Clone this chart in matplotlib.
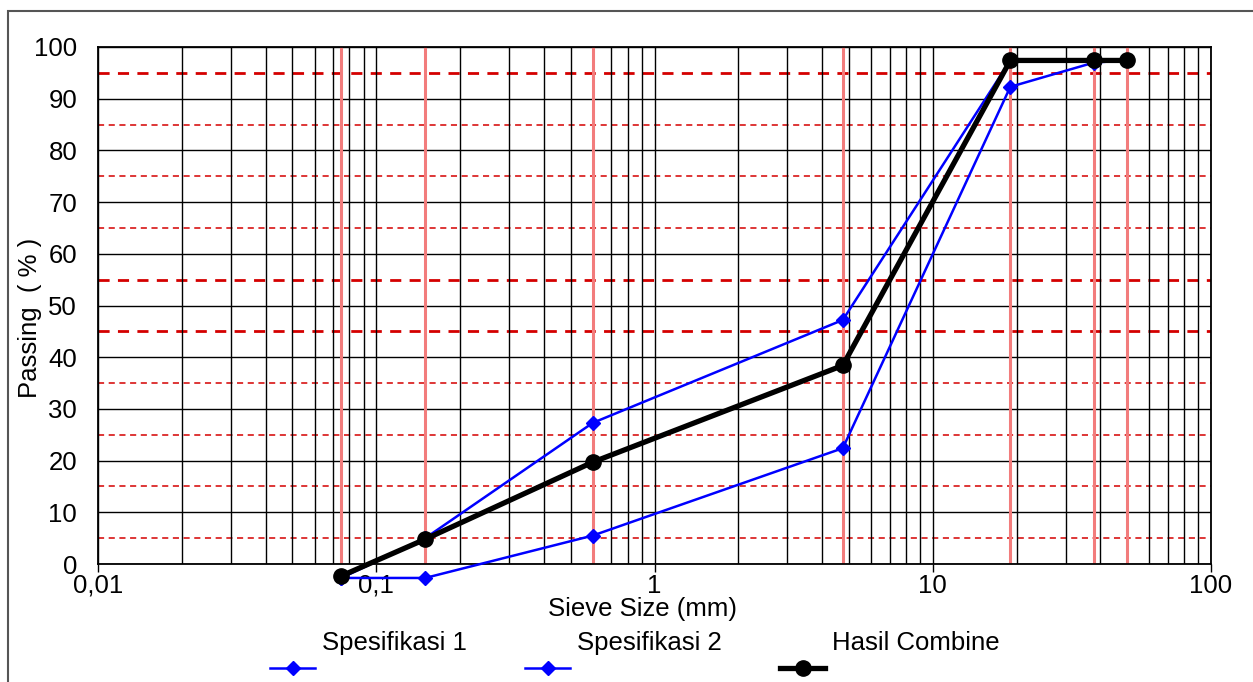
import matplotlib.pyplot as plt
import matplotlib.ticker as mticker
from matplotlib.lines import Line2D
from matplotlib.patches import Rectangle
import numpy as np

plt.rcParams['font.family'] = ['Liberation Sans', 'DejaVu Sans']

# sieve sizes (mm)
sieve = [0.075, 0.15, 0.6, 4.75, 19, 38, 50]
# passing (%)
spek1 = [-2.7, -2.7, 5.5, 22.4, 92.3, 97.0, 97.4]
spek2 = [-2.7, 5.0, 27.3, 47.2, 97.4, 97.4, 97.4]
combine = [-2.3, 4.8, 19.7, 38.4, 97.4, 97.4, 97.4]

labels = ['Spesifikasi 1', 'Spesifikasi 2', 'Hasil Combine']
xtick_vals = [0.01, 0.1, 1, 10, 100]
xtick_labels = ['0,01', '0,1', '1', '10', '100']
ytick_vals = list(range(0, 101, 10))

W, H = 1253, 682
fig = plt.figure(figsize=(W / 100, H / 100), dpi=100)
ax = fig.add_axes([98 / W, 1 - 564 / H, (1211 - 98) / W, (564 - 47) / H])

# outer frame
fig.add_artist(Rectangle((8 / W, -0.1), 1.2, 1 - 11 / H + 0.1, transform=fig.transFigure,
                         fill=False, edgecolor='#555555', lw=1.5))

ax.set_xscale('log')
ax.set_xlim(0.01, 100)
ax.set_ylim(0, 100)

# grid: black solid at decades / minors and every 10 %
ax.xaxis.set_major_locator(mticker.FixedLocator(xtick_vals))
ax.xaxis.set_major_formatter(mticker.FixedFormatter(xtick_labels))
ax.xaxis.set_minor_locator(mticker.LogLocator(base=10, subs=np.arange(2, 10)))
ax.xaxis.set_minor_formatter(mticker.NullFormatter())
ax.grid(True, which='both', axis='x', color='black', lw=1)
ax.set_yticks(ytick_vals)
ax.grid(True, which='major', axis='y', color='black', lw=1)

# red dashed at 5, 15, ... 95
for v in range(5, 100, 10):
    ax.axhline(v, color='#d40000', ls=(0, (4, 3)), lw=2 if v in (45, 55, 95) else 1.1, zorder=1.5)
# red sieve lines
for s in sieve:
    ax.axvline(s, color='#f27c7c', lw=2.2, zorder=1.6)

ax.tick_params(axis='x', which='major', length=6, width=1, pad=1, labelsize=18.5, direction='out')
ax.tick_params(axis='x', which='minor', length=0)
ax.tick_params(axis='y', length=0, pad=15, labelsize=18.5)
for sp in ax.spines.values():
    sp.set_linewidth(1.3)

ax.plot(sieve, spek1, color='#0000ff', lw=1.8, marker='D', ms=7, clip_on=False, zorder=4)
ax.plot(sieve, spek2, color='#0000ff', lw=1.8, marker='D', ms=7, clip_on=False, zorder=4)
ax.plot(sieve, combine, color='black', lw=3.8, marker='o', ms=11, clip_on=False, zorder=5)

fig.text(30 / W, 1 - 318 / H, 'Passing  ( % )', rotation=90, ha='center', va='center', fontsize=18.5)
fig.text(643 / W, 1 - 609 / H, 'Sieve Size (mm)', ha='center', va='center', fontsize=18.5)

# legend (text above sample line)
leg = [(270, '#0000ff', 'D', 1.8, 7), (525, '#0000ff', 'D', 1.8, 7), (780, 'black', 'o', 3.8, 11)]
for (x0, c, m, lw, ms), lab in zip(leg, labels):
    fig.add_artist(Line2D([x0 / W, (x0 + 45) / W], [1 - 668 / H] * 2, transform=fig.transFigure,
                          color=c, lw=lw))
    fig.add_artist(Line2D([(x0 + 22.5) / W], [1 - 668 / H], transform=fig.transFigure,
                          color=c, marker=m, ms=ms, lw=0))
    fig.text((x0 + 52) / W, 1 - 643 / H, lab, ha='left', va='center', fontsize=18.5)

fig.savefig('out.png', dpi=100)
